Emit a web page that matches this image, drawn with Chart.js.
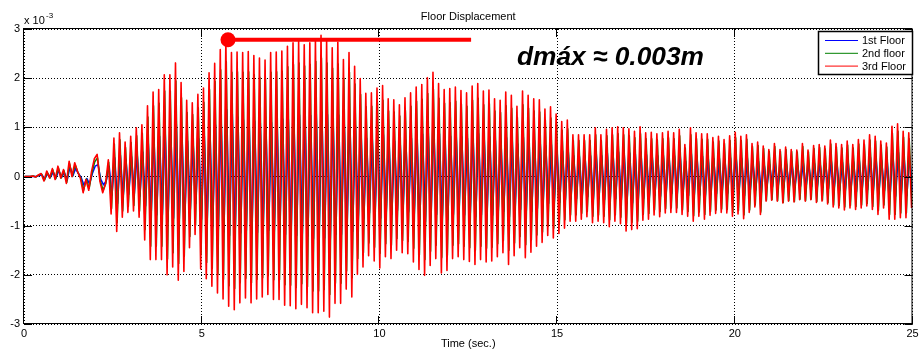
<!DOCTYPE html>
<html>
<head>
<meta charset="utf-8">
<title>Floor Displacement</title>
<script src="https://cdn.jsdelivr.net/npm/chart.js@4.4.1/dist/chart.umd.min.js"></script>
<style>
  html, body { margin: 0; padding: 0; background: #fff; }
  #wrap { width: 920px; height: 351px; }
</style>
</head>
<body>
<div id="wrap"><canvas id="disp" width="920" height="351"></canvas></div>
<script>
// Floor response, kept at its turning points (peak, trough, peak ...).
// Values are in units of 1e-3 m, as on the y axis.
const dt = 0.07875;  // s, half of the ~0.1575 s response period
// s, time of the first turning point for floors 1..3 (lower floors lag a little)
const startTime = [0.034, 0.022, 0.01];

const floor1 = [
  0, 0, 0, 0, 0, 0.02, 0.03, -0.05, 0.06, -0.02,
  0.09, -0.03, 0.12, -0.02, 0.08, -0.08, 0.20, 0.01, 0.16, 0.06,
  -0.02, -0.18, -0.04, -0.15, 0.06, 0.21, 0.24, -0.06, -0.17, -0.08,
  0.21, -0.38,
  0.38, -0.55, 0.43, -0.42, 0.35, -0.36, 0.40, -0.35, 0.47, -0.40,
  0.50, -0.60, 0.67, -0.78, 0.79, -0.78, 0.82, -0.78, 0.95, -0.92,
  0.95, -0.85, 1.06, -0.97, 0.88, -0.89, 0.72, -0.67, 0.69, -0.55,
  0.77, -0.87, 0.83, -0.96, 0.97, -1.02, 1.05, -1.08, 1.20, -1.13,
  1.36, -1.20, 1.27, -1.22, 1.21, -1.15, 1.15, -1.12, 1.16, -1.16,
  1.13, -1.14, 1.10, -1.12, 1.06, -1.10, 1.10, -1.13, 1.13, -1.13,
  1.17, -1.18, 1.18, -1.18, 1.21, -1.20, 1.25, -1.18, 1.22, -1.21,
  1.24, -1.26, 1.28, -1.26, 1.31, -1.25, 1.26, -1.30, 1.20, -1.18,
  1.25, -1.18, 1.09, -1.05, 1.15, -1.12, 1.03, -0.92, 0.92, -0.85,
  0.78, -0.74, 0.78, -0.79, 0.83, -0.85, 0.85, -0.75, 0.73, -0.77,
  0.72, -0.69, 0.67, -0.71, 0.74, -0.72, 0.78, -0.80, 0.84, -0.87,
  0.86, -0.92, 0.92, -0.83, 0.97, -0.77, 0.87, -0.90, 0.81, -0.88,
  0.82, -0.77, 0.84, -0.75, 0.81, -0.78, 0.78, -0.80, 0.85, -0.82,
  0.87, -0.78, 0.80, -0.80, 0.81, -0.79, 0.73, -0.75, 0.71, -0.71,
  0.79, -0.82, 0.76, -0.74, 0.66, -0.67, 0.80, -0.76, 0.76, -0.71,
  0.73, -0.65, 0.72, -0.62, 0.63, -0.55, 0.65, -0.58, 0.58, -0.53,
  0.52, -0.48, 0.55, -0.45, 0.42, -0.45, 0.42, -0.43, 0.42, -0.41,
  0.42, -0.47, 0.50, -0.45, 0.42, -0.47, 0.48, -0.51, 0.49, -0.45,
  0.50, -0.48, 0.49, -0.55, 0.48, -0.54, 0.46, -0.53, 0.50, -0.44,
  0.44, -0.43, 0.44, -0.38, 0.42, -0.40, 0.43, -0.36, 0.44, -0.35,
  0.42, -0.35, 0.46, -0.37, 0.31, -0.39, 0.47, -0.43, 0.42, -0.38,
  0.41, -0.41, 0.41, -0.37, 0.37, -0.35, 0.38, -0.34, 0.35, -0.34,
  0.38, -0.37, 0.41, -0.35, 0.37, -0.39, 0.38, -0.33, 0.30, -0.28,
  0.31, -0.34, 0.27, -0.22, 0.24, -0.21, 0.29, -0.22, 0.24, -0.23,
  0.26, -0.21, 0.24, -0.22, 0.23, -0.20, 0.28, -0.21, 0.23, -0.20,
  0.27, -0.23, 0.28, -0.22, 0.27, -0.25, 0.33, -0.28, 0.30, -0.29,
  0.29, -0.31, 0.33, -0.29, 0.30, -0.31, 0.34, -0.29, 0.34, -0.27,
  0.39, -0.31, 0.38, -0.35, 0.33, -0.29, 0.31, -0.40, 0.47, -0.40,
  0.49, -0.39, 0.42, -0.39, 0.41, -0.29
];

const floor2 = [
  0, 0, 0, 0.01, -0.01, 0.03, 0.05, -0.08, 0.09, -0.03,
  0.14, -0.05, 0.18, -0.03, 0.12, -0.12, 0.26, 0.0, 0.24, 0.08,
  -0.03, -0.28, -0.05, -0.24, 0.08, 0.30, 0.38, -0.09, -0.28, -0.13,
  0.29, -0.65,
  0.66, -0.94, 0.75, -0.70, 0.59, -0.61, 0.69, -0.59, 0.83, -0.70,
  0.88, -1.08, 1.21, -1.42, 1.44, -1.42, 1.49, -1.42, 1.74, -1.68,
  1.74, -1.55, 1.94, -1.77, 1.60, -1.62, 1.30, -1.22, 1.26, -0.99,
  1.40, -1.58, 1.51, -1.75, 1.77, -1.87, 1.93, -1.99, 2.17, -2.09,
  2.34, -2.22, 2.12, -2.28, 2.13, -2.16, 2.12, -2.07, 2.13, -2.16,
  2.07, -2.09, 2.02, -2.06, 1.99, -2.02, 2.12, -2.10, 2.13, -2.10,
  2.14, -2.20, 2.23, -2.21, 2.28, -2.26, 2.31, -2.18, 2.25, -2.24,
  2.28, -2.33, 2.34, -2.33, 2.41, -2.30, 2.31, -2.40, 2.20, -2.17,
  2.29, -2.17, 2.00, -1.92, 2.12, -2.06, 1.88, -1.67, 1.67, -1.55,
  1.42, -1.35, 1.43, -1.44, 1.51, -1.56, 1.55, -1.37, 1.33, -1.40,
  1.31, -1.26, 1.23, -1.30, 1.34, -1.32, 1.43, -1.46, 1.53, -1.59,
  1.57, -1.69, 1.69, -1.52, 1.78, -1.40, 1.59, -1.65, 1.49, -1.60,
  1.50, -1.40, 1.53, -1.37, 1.47, -1.42, 1.43, -1.45, 1.55, -1.50,
  1.59, -1.42, 1.46, -1.46, 1.48, -1.44, 1.33, -1.37, 1.30, -1.30,
  1.44, -1.50, 1.39, -1.35, 1.20, -1.22, 1.46, -1.39, 1.39, -1.29,
  1.33, -1.19, 1.31, -1.13, 1.15, -1.01, 1.19, -1.05, 1.07, -0.97,
  0.94, -0.88, 0.97, -0.78, 0.73, -0.78, 0.73, -0.75, 0.73, -0.71,
  0.73, -0.81, 0.85, -0.78, 0.73, -0.81, 0.83, -0.88, 0.85, -0.78,
  0.87, -0.83, 0.85, -0.95, 0.83, -0.93, 0.79, -0.91, 0.87, -0.77,
  0.77, -0.75, 0.77, -0.68, 0.75, -0.71, 0.77, -0.65, 0.79, -0.64,
  0.77, -0.64, 0.83, -0.68, 0.58, -0.71, 0.85, -0.80, 0.77, -0.72,
  0.76, -0.77, 0.76, -0.71, 0.70, -0.68, 0.72, -0.66, 0.67, -0.67,
  0.73, -0.73, 0.79, -0.69, 0.73, -0.78, 0.76, -0.68, 0.61, -0.58,
  0.63, -0.72, 0.57, -0.48, 0.51, -0.47, 0.61, -0.49, 0.51, -0.53,
  0.55, -0.49, 0.51, -0.51, 0.50, -0.46, 0.61, -0.49, 0.50, -0.46,
  0.57, -0.51, 0.59, -0.48, 0.56, -0.53, 0.66, -0.58, 0.60, -0.59,
  0.58, -0.62, 0.64, -0.59, 0.58, -0.61, 0.66, -0.58, 0.65, -0.55,
  0.74, -0.61, 0.72, -0.69, 0.64, -0.58, 0.60, -0.77, 0.88, -0.77,
  0.92, -0.74, 0.80, -0.74, 0.77, -0.57
];

const floor3 = [
  0, 0, 0, 0.01, -0.01, 0.03, 0.06, -0.09, 0.11, -0.03,
  0.16, -0.06, 0.21, -0.03, 0.14, -0.14, 0.31, 0.0, 0.28, 0.10,
  -0.03, -0.33, -0.06, -0.28, 0.10, 0.36, 0.45, -0.10, -0.33, -0.15,
  0.34, -0.76,
  0.78, -1.12, 0.89, -0.83, 0.70, -0.73, 0.82, -0.70, 0.99, -0.83,
  1.05, -1.29, 1.44, -1.69, 1.72, -1.69, 1.77, -1.69, 2.07, -2.00,
  2.07, -1.84, 2.31, -2.11, 1.91, -1.93, 1.55, -1.45, 1.50, -1.18,
  1.67, -1.88, 1.80, -2.08, 2.11, -2.23, 2.30, -2.37, 2.58, -2.49,
  2.79, -2.64, 2.52, -2.71, 2.53, -2.57, 2.52, -2.47, 2.54, -2.57,
  2.46, -2.49, 2.41, -2.45, 2.37, -2.40, 2.52, -2.50, 2.53, -2.50,
  2.55, -2.62, 2.65, -2.63, 2.72, -2.69, 2.75, -2.60, 2.68, -2.67,
  2.72, -2.77, 2.79, -2.77, 2.87, -2.74, 2.75, -2.86, 2.62, -2.58,
  2.73, -2.58, 2.38, -2.29, 2.52, -2.45, 2.24, -1.99, 1.99, -1.84,
  1.69, -1.61, 1.70, -1.72, 1.80, -1.86, 1.85, -1.63, 1.58, -1.67,
  1.56, -1.50, 1.46, -1.55, 1.60, -1.57, 1.70, -1.74, 1.82, -1.89,
  1.87, -2.01, 2.01, -1.81, 2.12, -1.67, 1.89, -1.96, 1.77, -1.91,
  1.79, -1.67, 1.82, -1.63, 1.75, -1.69, 1.70, -1.73, 1.84, -1.79,
  1.89, -1.69, 1.74, -1.74, 1.76, -1.72, 1.58, -1.63, 1.55, -1.55,
  1.72, -1.79, 1.65, -1.61, 1.43, -1.45, 1.74, -1.65, 1.65, -1.54,
  1.58, -1.42, 1.56, -1.34, 1.37, -1.20, 1.42, -1.25, 1.27, -1.16,
  1.12, -1.05, 1.15, -0.91, 0.85, -0.91, 0.85, -0.87, 0.85, -0.82,
  0.85, -0.94, 0.99, -0.91, 0.85, -0.94, 0.96, -1.02, 0.99, -0.91,
  1.01, -0.96, 0.99, -1.11, 0.97, -1.08, 0.92, -1.06, 1.01, -0.89,
  0.89, -0.87, 0.90, -0.78, 0.87, -0.82, 0.89, -0.74, 0.92, -0.73,
  0.89, -0.73, 0.96, -0.77, 0.65, -0.81, 0.99, -0.91, 0.89, -0.81,
  0.87, -0.87, 0.87, -0.79, 0.79, -0.75, 0.82, -0.73, 0.75, -0.74,
  0.83, -0.81, 0.90, -0.76, 0.82, -0.86, 0.85, -0.73, 0.67, -0.62,
  0.70, -0.77, 0.62, -0.50, 0.55, -0.48, 0.67, -0.50, 0.55, -0.54,
  0.60, -0.50, 0.55, -0.52, 0.54, -0.47, 0.67, -0.50, 0.54, -0.47,
  0.63, -0.53, 0.65, -0.50, 0.62, -0.56, 0.74, -0.62, 0.67, -0.64,
  0.65, -0.68, 0.72, -0.64, 0.65, -0.67, 0.75, -0.64, 0.74, -0.60,
  0.85, -0.67, 0.82, -0.77, 0.72, -0.64, 0.68, -0.87, 1.02, -0.87,
  1.07, -0.84, 0.92, -0.84, 0.89, -0.64
];

const seriesNames = ['1st Floor', '2nd floor', '3rd Floor'];
const seriesColors = ['#0000ff', '#008000', '#ff0000'];

// peak marker: dot on the largest top-floor peak, bar running right
const peakTime = [5.74, 12.58];
const peakLevel = 2.78;
const peakNote = 'dmáx ≈ 0.003m';

const FONT = '"Liberation Sans", Arial, Helvetica, sans-serif';
Chart.defaults.font.family = FONT;
Chart.defaults.font.size = 11;
Chart.defaults.color = '#000';

const toPoints = (vals, start) => vals.map((v, i) => ({ x: start + i * dt, y: v }));

// box, inward ticks, exponent, legend and the note
const frame = {
  id: 'frame',
  afterDraw(chart) {
    const ctx = chart.ctx;
    const { left, right, top, bottom } = chart.chartArea;
    const xs = chart.scales.x, ys = chart.scales.y;
    ctx.save();
    ctx.strokeStyle = '#000';
    ctx.lineWidth = 1;
    ctx.strokeRect(left - 0.5, top - 0.5, right - left, bottom - top);

    ctx.beginPath();
    ys.ticks.forEach(t => {
      const py = Math.round(ys.getPixelForValue(t.value)) + 0.5;
      ctx.moveTo(left, py); ctx.lineTo(left + 8, py);
      ctx.moveTo(right, py); ctx.lineTo(right - 8, py);
    });
    xs.ticks.forEach(t => {
      const px = Math.round(xs.getPixelForValue(t.value)) - 0.5;
      ctx.moveTo(px, bottom); ctx.lineTo(px, bottom - 8);
      ctx.moveTo(px, top); ctx.lineTo(px, top + 8);
    });
    ctx.stroke();

    // axis multiplier
    ctx.fillStyle = '#000';
    ctx.textBaseline = 'alphabetic';
    ctx.textAlign = 'left';
    ctx.font = '11px ' + FONT;
    ctx.fillText('x 10', 24, 24);
    ctx.font = '8px ' + FONT;
    ctx.fillText('-3', 46, 18);

    // legend
    const lx = 818.5, ly = 31.5, lw = 94, lh = 43;
    ctx.fillStyle = '#fff';
    ctx.fillRect(lx, ly, lw, lh);
    ctx.lineWidth = 1.5;
    ctx.strokeRect(lx, ly, lw, lh);
    ctx.lineWidth = 1;
    ctx.font = '11px ' + FONT;
    ctx.textBaseline = 'middle';
    seriesNames.forEach((name, i) => {
      const ry = 40.5 + i * 12.8;
      ctx.strokeStyle = seriesColors[i];
      ctx.beginPath();
      ctx.moveTo(825, ry); ctx.lineTo(858, ry);
      ctx.stroke();
      ctx.fillStyle = '#000';
      ctx.fillText(name, 862, ry + 0.5);
    });

    ctx.font = 'italic bold 26.3px ' + FONT;
    ctx.textBaseline = 'alphabetic';
    ctx.fillStyle = '#000';
    ctx.fillText(peakNote, 517, 65);
    ctx.restore();
  }
};

const gridOpts = { color: '#000', lineWidth: 1, drawTicks: false };
const dotted = { display: false, dash: [1, 2] };

new Chart(document.getElementById('disp'), {
  type: 'line',
  data: {
    datasets: [
      { label: seriesNames[0], data: toPoints(floor1, startTime[0]), borderColor: seriesColors[0], borderWidth: 1.5, order: 3 },
      { label: seriesNames[1], data: toPoints(floor2, startTime[1]), borderColor: seriesColors[1], borderWidth: 1.5, order: 2 },
      { label: seriesNames[2], data: toPoints(floor3, startTime[2]), borderColor: seriesColors[2], borderWidth: 1.6, order: 1 },
      {
        label: 'peak',
        data: peakTime.map(t => ({ x: t, y: peakLevel })),
        borderColor: '#ff0000',
        borderWidth: 4,
        pointRadius: [7.5, 0],
        pointBackgroundColor: '#ff0000',
        pointBorderWidth: 0,
        order: 0
      }
    ]
  },
  options: {
    responsive: false,
    animation: false,
    devicePixelRatio: 1,
    layout: { padding: { top: 0, right: 2, bottom: 0, left: 0 } },
    elements: {
      point: { radius: 0 },
      line: { tension: 0, borderJoinStyle: 'round', fill: false }
    },
    plugins: {
      legend: { display: false },
      tooltip: { enabled: false },
      title: {
        display: true,
        text: 'Floor Displacement',
        fullSize: false,
        color: '#000',
        font: { size: 11, weight: 'normal' },
        padding: { top: 10, bottom: 5.8 }
      }
    },
    scales: {
      x: {
        type: 'linear',
        min: 0,
        max: 25,
        ticks: { stepSize: 5, padding: 3, maxRotation: 0, color: '#000' },
        grid: gridOpts,
        border: dotted,
        title: { display: true, text: 'Time (sec.)', padding: 0, color: '#000', font: { size: 11 } },
        afterFit(s) { s.height = 27; s.paddingLeft = 0; s.paddingRight = 0; }
      },
      y: {
        min: -3,
        max: 3,
        ticks: { stepSize: 1, padding: 4, color: '#000' },
        grid: gridOpts,
        border: dotted,
        afterFit(s) { s.width = 24; }
      }
    }
  },
  plugins: [frame]
});
</script>
</body>
</html>
